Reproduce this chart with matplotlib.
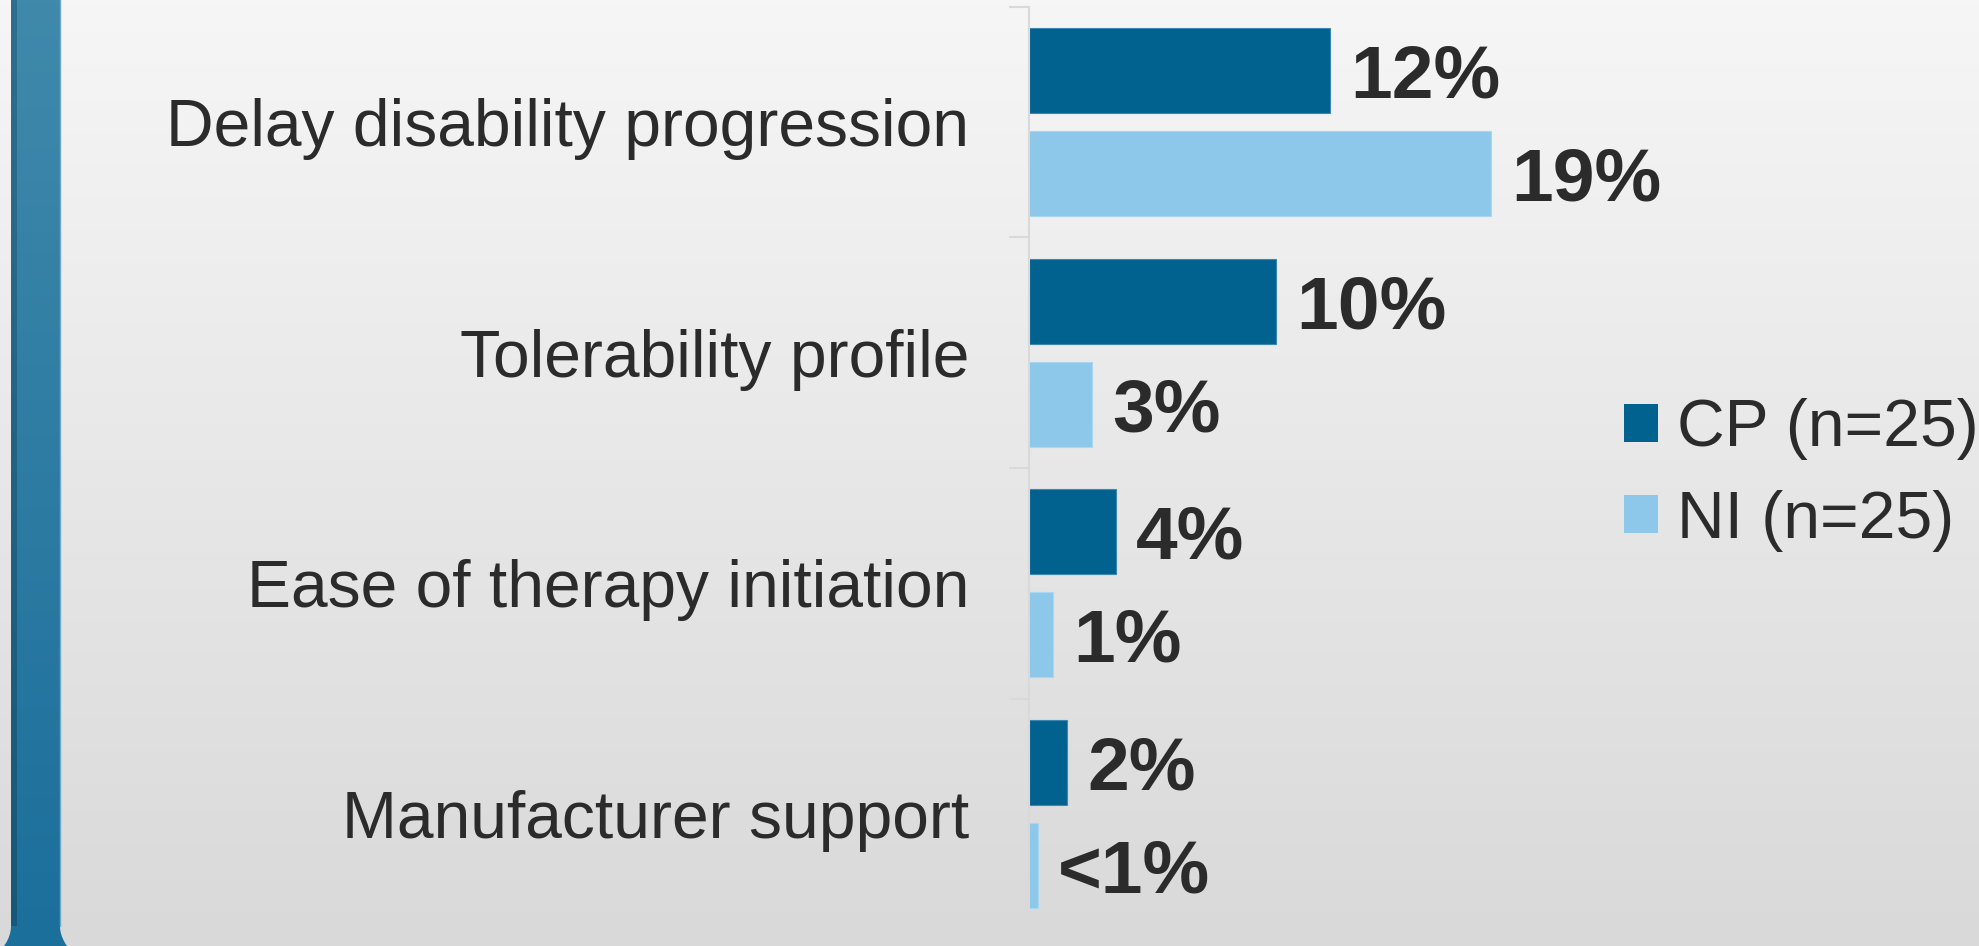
import matplotlib
matplotlib.use("Agg")
import matplotlib.pyplot as plt
import numpy as np
from matplotlib.colors import LinearSegmentedColormap
from matplotlib.patches import Patch, Polygon

plt.rcParams["font.family"] = ["Liberation Sans", "DejaVu Sans"]

# data (bar lengths in %, labels as printed)
categories = [
    "Delay disability progression",
    "Tolerability profile",
    "Ease of therapy initiation",
    "Manufacturer support",
]
cp_values = [12.3, 10.1, 3.55, 1.55]
ni_values = [18.85, 2.57, 0.98, 0.37]
cp_labels = ["12%", "10%", "4%", "2%"]
ni_labels = ["19%", "3%", "1%", "<1%"]
series_names = ["CP (n=25)", "NI (n=25)"]

cp_color = "#01618F"
ni_color = "#8DC8EB"
text_color = "#2B2B2B"

W, H = 1979, 946
fig = plt.figure(figsize=(W / 100, H / 100), dpi=100)

# slide-like background
bg = fig.add_axes([0, 0, 1, 1], zorder=0)
bg.set_xlim(0, W)
bg.set_ylim(H, 0)
bg.axis("off")
grad = np.linspace(0, 1, 256)[:, None]
grey = LinearSegmentedColormap.from_list("grey", ["#F6F6F6", "#D9D9D9"])
bg.imshow(grad, extent=[0, W, H, 0], cmap=grey, aspect="auto")
blue = LinearSegmentedColormap.from_list("blue", ["#4089AB", "#1B6F9B"])
bg.imshow(grad, extent=[11, 60, H, 0], cmap=blue, aspect="auto")
dark = LinearSegmentedColormap.from_list("dark", ["#2E6F8E", "#16577A"])
bg.imshow(grad, extent=[11, 17, H, 0], cmap=dark, aspect="auto")
bg.plot([59.5, 59.5], [0, 926], color="#6FA8C6", lw=1)
t = np.linspace(0, 1, 20)
left_edge = np.column_stack([11 - 7 * t ** 2, 926 + 20 * t])
right_edge = np.column_stack([60 + 7 * t ** 2, 926 + 20 * t])[::-1]
bg.add_patch(Polygon(np.vstack([left_edge, right_edge]), closed=True,
                     color="#1B6F9B", lw=0))

# main chart
ax = fig.add_axes([1029 / W, 1 - 929 / H, 550 / W, 922 / H], zorder=1)
ax.patch.set_alpha(0)

y = np.arange(len(categories))
off = 0.223
h = 0.37
ax.barh(y - off, cp_values, height=h, color=cp_color, edgecolor="#3E86B2",
        linewidth=0.8, label=series_names[0])
ax.barh(y + off, ni_values, height=h, color=ni_color, edgecolor="#A9D6F0",
        linewidth=0.8, label=series_names[1])

for i in range(len(categories)):
    ax.annotate(cp_labels[i], (cp_values[i], y[i] - off), xytext=(14.5, 0),
                textcoords="offset points", ha="left", va="center_baseline",
                fontsize=54, fontweight="bold", color=text_color)
    ax.annotate(ni_labels[i], (ni_values[i], y[i] + off), xytext=(14.5, 0),
                textcoords="offset points", ha="left", va="center_baseline",
                fontsize=54, fontweight="bold", color=text_color)

ax.set_xlim(0, 550 / 24.5)
ax.set_ylim(len(categories) - 0.5, -0.5)
ax.set_yticks(y)
ax.set_yticklabels(categories, fontsize=47.5, color=text_color)
ax.set_yticks(np.arange(len(categories) + 1) - 0.5, minor=True)
ax.tick_params(axis="y", which="major", length=0, pad=43)
ax.tick_params(axis="y", which="minor", length=14.5, width=1.5, color="#D9D9D9")
ax.set_xticks([])
for s in ["top", "right", "bottom"]:
    ax.spines[s].set_visible(False)
ax.spines["left"].set_color("#D9D9D9")
ax.spines["left"].set_linewidth(1.5)

handles = [Patch(facecolor=cp_color), Patch(facecolor=ni_color)]
ax.legend(handles, series_names, loc="center left",
          bbox_to_anchor=(1624 / W, 1 - 475 / H), bbox_transform=fig.transFigure,
          frameon=False, fontsize=47.5, handlelength=0.515, handleheight=0.515,
          handletextpad=0.29, labelspacing=0.44, borderpad=0, borderaxespad=0,
          labelcolor=text_color)

fig.savefig("out.png", dpi=100)
